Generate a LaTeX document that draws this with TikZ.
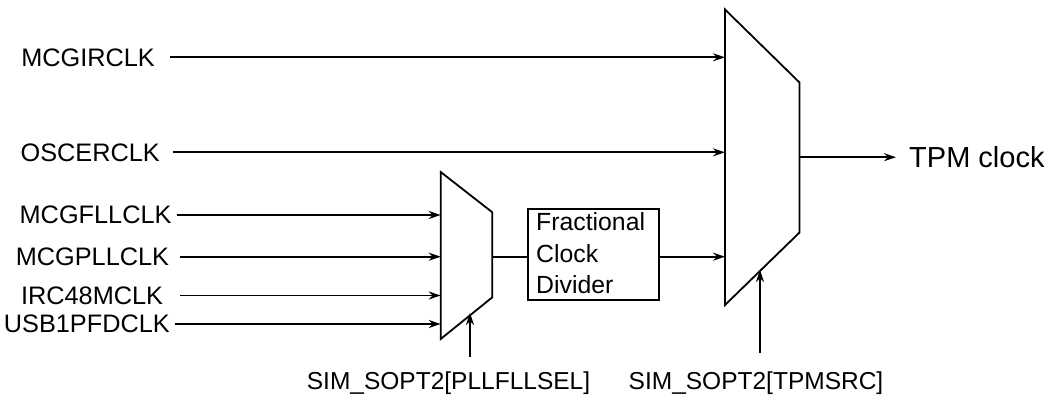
\documentclass[tikz,border=0pt]{standalone}
\usepackage{fontspec}
\setmainfont{Liberation Sans}
\usetikzlibrary{arrows.meta}
\begin{document}
\begin{tikzpicture}[x=1pt,y=-1pt,
  wire/.style={line width=1.8pt},
  arr/.style={wire,-{Stealth[length=12pt,width=8pt,inset=4pt]}},
  lbl/.style={inner sep=0pt,font=\fontsize{24.5}{29}\selectfont},
  inlbl/.style={lbl,anchor=east,font=\fontsize{25.3}{30}\selectfont},
  muxshape/.style={line width=1.8pt,line join=miter}]
\useasboundingbox (0,0) rectangle (1052,395);
% big mux
\draw[muxshape] (725,9.5) -- (799.5,82.5) -- (799.5,232.5) -- (725,305) -- cycle;
% small mux
\draw[muxshape] (440.7,172) -- (492.3,212.3) -- (492.3,297.3) -- (440.7,339) -- cycle;
% port coordinates
\coordinate (B1) at (725,57.3);
\coordinate (B2) at (725,152.3);
\coordinate (B3) at (725,256.7);
\coordinate (Bout) at (799.5,157.2);
\coordinate (Bsel) at (760,270);
\coordinate (S1) at (440.7,215);
\coordinate (S2) at (440.7,256.7);
\coordinate (S3) at (440.7,295.5);
\coordinate (S4) at (440.7,324);
\coordinate (Sout) at (492.3,256.7);
\coordinate (Ssel) at (470,313);
% divider box
\node[draw,line width=1.8pt,minimum width=130.7pt,minimum height=90.7pt,inner sep=0pt] (div) at (593.7,254.7) {};
\node[lbl,anchor=west,align=left,font=\fontsize{24.8}{31.5}\selectfont] (divtxt) at (536,253.5) {Fractional\\Clock\\Divider};
% input labels
\node[inlbl] (mcgir) at (155,57.3) {MCGIRCLK};
\node[inlbl] (oscer) at (160,152.3) {OSCERCLK};
\node[inlbl] (fll) at (171.7,215) {MCGFLLCLK};
\node[inlbl] (pll) at (169.3,256.7) {MCGPLLCLK};
\node[inlbl] (irc) at (163.3,295.5) {IRC48MCLK};
\node[inlbl] (usb) at (170,324) {USB1PFDCLK};
\node[lbl,anchor=west,font=\fontsize{29}{34}\selectfont] (tpm) at (909,157.2) {TPM clock};
\node[lbl] (selA) at (448.5,383) {SIM\_SOPT2[PLLFLLSEL]};
\node[lbl] (selB) at (756,383) {SIM\_SOPT2[TPMSRC]};
% connectors
\draw[arr] ([xshift=15pt]mcgir.east) -- (B1);
\draw[arr] ([xshift=13pt]oscer.east) -- (B2);
\draw[arr] ([xshift=5pt]fll.east) -- (S1);
\draw[arr] ([xshift=10.7pt]pll.east) -- (S2);
\draw[arr] ([xshift=16.7pt]irc.east) -- (S3);
\draw[arr] ([xshift=5pt]usb.east) -- (S4);
\draw[wire] (Sout) -- (div.west |- Sout);
\draw[arr] (div.east |- B3) -- (B3);
\draw[arr] (Bout) -- ([xshift=-13pt]tpm.west |- Bout);
\draw[arr] (Ssel |- 0,357) -- (Ssel);
\draw[arr] (Bsel |- 0,353) -- (Bsel);
\end{tikzpicture}
\end{document}
